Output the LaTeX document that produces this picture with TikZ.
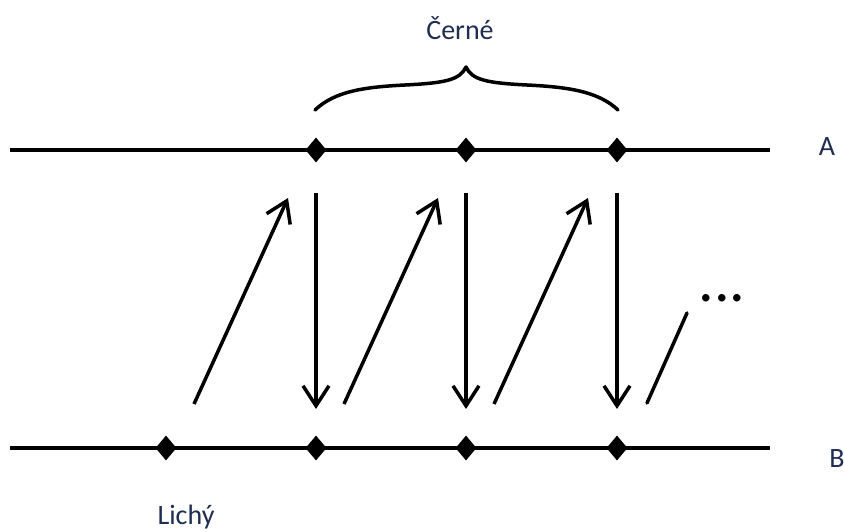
\documentclass[tikz,border=0pt]{standalone}
\usepackage{fontspec}
\setmainfont{Carlito}
\usetikzlibrary{arrows.meta,shapes.geometric}
\definecolor{labelblue}{RGB}{31,45,80}
\begin{document}
\begin{tikzpicture}[x=1pt,y=-1pt,
  dot/.style={diamond,fill=black,draw=none,inner sep=0pt,minimum width=21pt,minimum height=25pt},
  rail/.style={line width=4pt},
  arr/.style={line width=3.5pt,-{Straight Barb[length=20pt,width=26pt]}},
  lbl/.style={text=labelblue,font=\fontsize{28}{32}\selectfont,inner sep=0pt}]
\useasboundingbox (0,0) rectangle (844,532);
% rails
\coordinate (aL) at (10,150); \coordinate (aR) at (770,150);
\coordinate (bL) at (10,448); \coordinate (bR) at (770,448);
\draw[rail] (aL) -- (aR);
\draw[rail] (bL) -- (bR);
% points
\node[dot] (a1) at (316,150) {};
\node[dot] (a2) at (466,150) {};
\node[dot] (a3) at (617,150) {};
\node[dot] (b0) at (166,448) {};
\node[dot] (b1) at (316,448) {};
\node[dot] (b2) at (466,448) {};
\node[dot] (b3) at (617,448) {};
% down arrows
\foreach \x/\n in {316/1,466/2,617/3}{
  \coordinate (ds\n) at (\x,193);
  \coordinate (de\n) at (\x,409);
  \draw[arr] (ds\n) -- (de\n);
}
% diagonal arrows
\foreach \x/\n in {0/1,150/2,300/3}{
  \coordinate (us\n) at (194+\x,404);
  \coordinate (ue\n) at (288+\x,198);
  \draw[arr] (us\n) -- (ue\n);
}
% last segment
\coordinate (ls) at (647,403);
\coordinate (le) at (687,313);
\draw[line width=3.5pt,line cap=round] (ls) -- (le);
\node[text=black,font=\fontsize{62}{64}\selectfont,inner sep=0pt,anchor=base] (dots) at (722,301) {...};
% brace
\coordinate (brL) at (315,110);
\coordinate (brM) at (466,67);
\coordinate (brR) at (618,110);
\draw[line width=3.5pt,line cap=round,line join=round]
  (brL) .. controls (335,91) and (365,87) .. (405,85)
        .. controls (445,83) and (460,80) .. (brM)
        .. controls (472,80) and (487,83) .. (527,85)
        .. controls (567,87) and (598,91) .. (brR);
% labels
\node[lbl,anchor=base] (cerne) at (460,40) {Černé};
\node[lbl,anchor=base] (lA) at (827,156) {A};
\node[lbl,anchor=base] (lB) at (837,467) {B};
\node[lbl,anchor=base] (lichy) at (186,524) {Lichý};
\end{tikzpicture}
\end{document}
